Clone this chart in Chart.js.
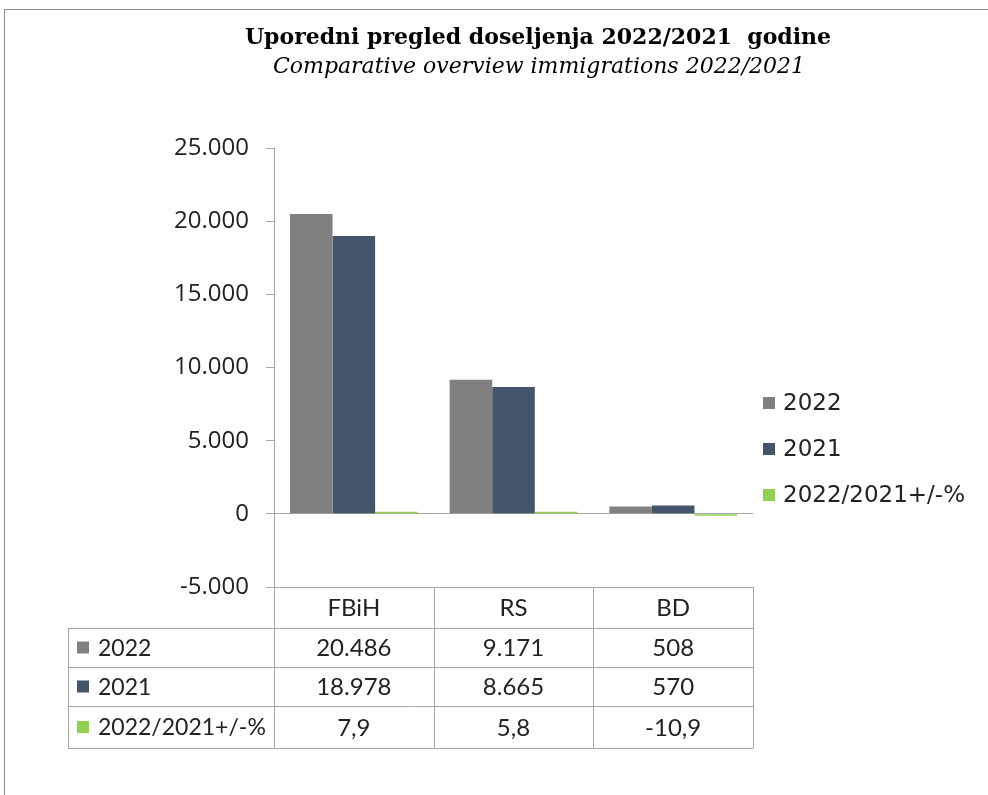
<!DOCTYPE html>
<html>
<head>
<meta charset="utf-8">
<script src="https://cdn.jsdelivr.net/npm/chart.js@4.4.1/dist/chart.umd.min.js"></script>
<style>
    html, body { margin: 0; padding: 0; background: #fff; }
    #wrap { width: 988px; height: 795px; }
</style>
</head>
<body>
<div id="wrap"><canvas id="doseljenja-chart" width="988" height="795"></canvas></div>
<script>
const categories = ['FBiH', 'RS', 'BD'];
const series_names = ['2022', '2021', '2022/2021+/-%'];
const values_2022 = [20486, 9171, 508];
const values_2021 = [18978, 8665, 570];
const values_change = [7.9, 5.8, -10.9];
const y_ticks = [-5000, 0, 5000, 10000, 15000, 20000, 25000];
const series_colors = ['#808080', '#44546a', '#92d050'];

const title_main = 'Uporedni pregled doseljenja 2022/2021  godine';
const title_sub = 'Comparative overview immigrations 2022/2021';

const canvas = document.getElementById('doseljenja-chart');
const line_color = '#a6a6a6';
const table_font = 'Lato, "Noto Sans", sans-serif';
const tick_font = '"Open Sans", "Noto Sans", sans-serif';
const legend_font = '"DejaVu Sans", sans-serif';


function fmt_thousands(v) {
    let s = String(Math.abs(v)).replace(/\B(?=(\d{3})+(?!\d))/g, '.');
    return (v < 0 ? '-' : '') + s;
}

function fmt_percent(v) {
    return v.toFixed(1).replace('.', ',');
}


// frame + titles + data table + right legend
const extras_plugin = {
    id: 'extras',
    beforeDraw(chart) {
        const ctx = chart.ctx;
        ctx.save();
        ctx.strokeStyle = '#8c8c8c';
        ctx.lineWidth = 1;
        ctx.strokeRect(4.5, 9.5, 1100, 900);

        ctx.fillStyle = '#000';
        ctx.textAlign = 'center';
        ctx.textBaseline = 'middle';
        ctx.font = 'bold 22px "DejaVu Serif", serif';
        ctx.fillText(title_main, 538, 38);
        ctx.font = 'italic 22px "DejaVu Serif", serif';
        ctx.fillText(title_sub, 539, 67);
        ctx.restore();
    },
    afterDraw(chart) {
        const ctx = chart.ctx;
        const area = chart.chartArea;
        const xs = chart.scales.x;
        const rows = [values_2022, values_2021, values_change];
        const table_left = 68;
        const row_edges = [area.bottom, 628, 667, 706, 748];
        const half = (xs.getPixelForValue(1) - xs.getPixelForValue(0)) / 2;
        const col_edges = [area.left];
        for (let i = 0; i < categories.length; i++) {
            col_edges.push(xs.getPixelForValue(i) + half);
        }

        ctx.save();
        ctx.strokeStyle = line_color;
        ctx.lineWidth = 1;
        ctx.beginPath();
        for (let r = 0; r < row_edges.length; r++) {
            const y = Math.round(row_edges[r]) + 0.5;
            ctx.moveTo(r === 0 ? area.left : table_left, y);
            ctx.lineTo(area.right, y);
        }
        for (let c = 0; c < col_edges.length; c++) {
            const x = Math.round(col_edges[c]) + 0.5;
            ctx.moveTo(x, area.bottom);
            ctx.lineTo(x, row_edges[row_edges.length - 1]);
        }
        ctx.moveTo(table_left + 0.5, row_edges[1]);
        ctx.lineTo(table_left + 0.5, row_edges[row_edges.length - 1]);
        ctx.stroke();

        ctx.fillStyle = '#222';
        ctx.font = '24px ' + table_font;
        ctx.textBaseline = 'middle';
        ctx.textAlign = 'center';
        for (let i = 0; i < categories.length; i++) {
            const cx = xs.getPixelForValue(i);
            ctx.fillText(categories[i], cx, (row_edges[0] + row_edges[1]) / 2 + 1);
            for (let r = 0; r < rows.length; r++) {
                const v = rows[r][i];
                const txt = r === 2 ? fmt_percent(v) : fmt_thousands(v);
                ctx.fillText(txt, cx, (row_edges[r + 1] + row_edges[r + 2]) / 2 + 1);
            }
        }
        ctx.textAlign = 'left';
        ctx.font = '23px ' + table_font;
        for (let r = 0; r < series_names.length; r++) {
            const cy = (row_edges[r + 1] + row_edges[r + 2]) / 2;
            ctx.fillStyle = series_colors[r];
            ctx.fillRect(77, cy - 6, 12, 12);
            ctx.fillStyle = '#222';
            ctx.fillText(series_names[r], 98, cy + 1);
        }

        // legend on the right
        ctx.font = '23px ' + legend_font;
        const legend_y = [403, 449, 495];
        for (let r = 0; r < series_names.length; r++) {
            ctx.fillStyle = series_colors[r];
            ctx.fillRect(763, legend_y[r] - 6, 12, 12);
            ctx.fillStyle = '#222';
            ctx.fillText(series_names[r], 783, legend_y[r] + 1);
        }
        ctx.restore();
    }
};


const chart_datasets = [
    { label: series_names[0], data: values_2022, backgroundColor: series_colors[0] },
    { label: series_names[1], data: values_2021, backgroundColor: series_colors[1] },
    { label: series_names[2], data: values_change, backgroundColor: series_colors[2], minBarLength: 2 }
];

const chart = new Chart(canvas, {
    type: 'bar',
    data: {
        labels: categories,
        datasets: chart_datasets
    },
    options: {
        responsive: false,
        animation: false,
        layout: {
            padding: { top: 148, bottom: 795 - 587, left: 0, right: 235 }
        },
        datasets: {
            bar: { categoryPercentage: 0.8, barPercentage: 1.0 }
        },
        plugins: {
            legend: { display: false },
            title: { display: false },
            tooltip: { enabled: false }
        },
        scales: {
            x: {
                display: false,
                offset: true
            },
            y: {
                min: y_ticks[0],
                max: y_ticks[y_ticks.length - 1],
                afterFit: (scale) => { scale.width = 274; },
                afterBuildTicks: (scale) => {
                    scale.ticks = y_ticks.map(v => ({ value: v }));
                },
                border: { display: true, color: line_color, width: 1 },
                grid: {
                    drawOnChartArea: true,
                    color: (c) => (c.tick && c.tick.value === 0) ? line_color : 'rgba(0,0,0,0)',
                    tickColor: line_color,
                    tickLength: 8
                },
                ticks: {
                    color: '#222',
                    padding: 17,
                    font: { family: tick_font, size: 24 },
                    callback: (v) => fmt_thousands(v)
                }
            }
        }
    },
    plugins: [extras_plugin]
});
</script>
</body>
</html>
